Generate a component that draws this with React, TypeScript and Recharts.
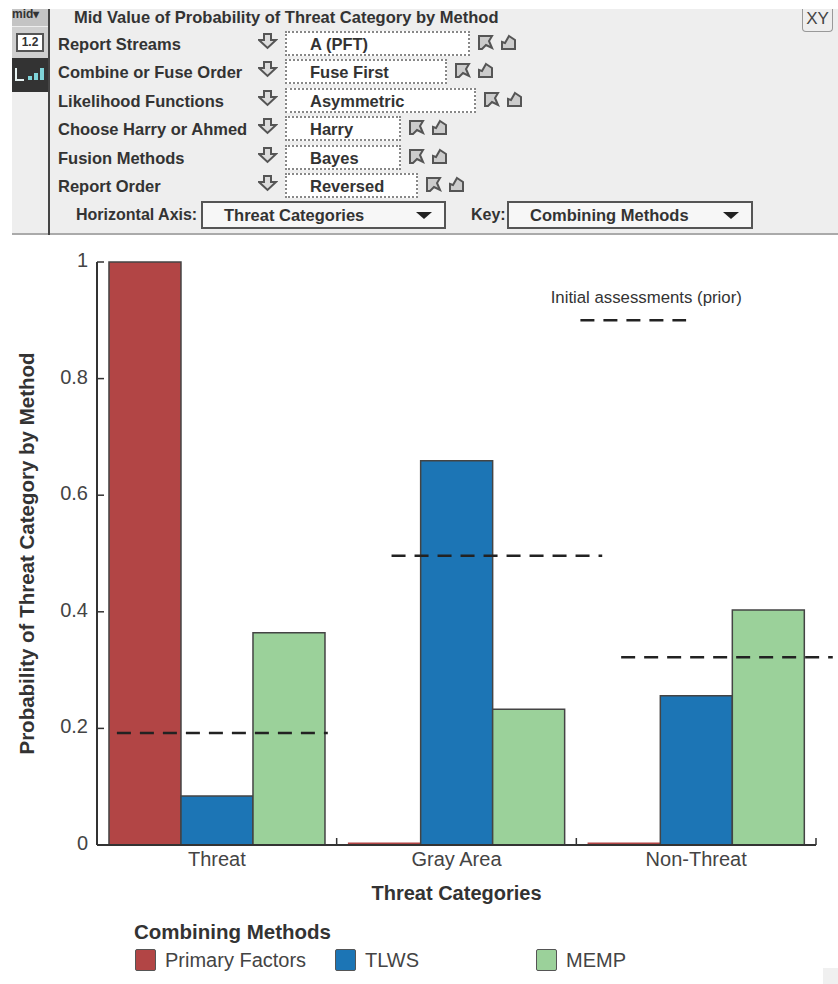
import React from 'react';
import {
  BarChart,
  Bar,
  Cell,
  XAxis,
  YAxis,
  Legend,
  ReferenceLine,
} from 'recharts';

const categories = ['Threat', 'Gray Area', 'Non-Threat'];
const primaryFactors = [1, 0.003, 0.003];
const tlws = [0.084, 0.659, 0.256];
const memp = [0.364, 0.233, 0.403];
const priors = [0.192, 0.496, 0.322];
// where each prior line starts and ends, in category units along the axis
const priorStarts = [0.083, 1.229, 2.187];
const priorEnds = [0.963, 2.108, 3.07];
const priorKey = { value: 0.9, from: 2.017, to: 2.458 };
const yTicks = [0, 0.2, 0.4, 0.6, 0.8, 1];
const boundaryTicks = [1, 2, 3];

const rows = [
  { label: 'Report Streams', value: 'A (PFT)' },
  { label: 'Combine or Fuse Order', value: 'Fuse First' },
  { label: 'Likelihood Functions', value: 'Asymmetric' },
  { label: 'Choose Harry or Ahmed', value: 'Harry' },
  { label: 'Fusion Methods', value: 'Bayes' },
  { label: 'Report Order', value: 'Reversed' },
];
const rowTops = [31, 59, 88, 116, 145, 173];
const rowBoxEnds = [470, 447, 476, 401, 401, 418];

const seriesList = [
  { key: 'primary', name: 'Primary Factors', color: '#b24545', values: primaryFactors },
  { key: 'tlws', name: 'TLWS', color: '#1c75b5', values: tlws },
  { key: 'memp', name: 'MEMP', color: '#9bd19a', values: memp },
];

const chartData = categories.map((name, i) => ({
  name,
  slot: i,
  primary: primaryFactors[i],
  tlws: tlws[i],
  memp: memp[i],
}));

const FONT = '"Liberation Sans", Arial, sans-serif';
const PANEL_TEXT = 16.5;
const AXIS_Y = 845;
const legendSlots = [135, 335, 536];

function pos(left: number, top: number, extra: React.CSSProperties = {}): React.CSSProperties {
  return { position: 'absolute', left, top, ...extra };
}

function DownArrow({ x, y }: { x: number; y: number }) {
  return (
    <svg style={pos(x, y)} width={20} height={18}>
      <path d="M6 2H13V8H18L9.5 16L1 8H6Z" fill="#ddd" stroke="#555" strokeWidth={2} />
    </svg>
  );
}

function CornerIcons({ x, y }: { x: number; y: number }) {
  return (
    <>
      <svg style={pos(x, y)} width={18} height={18}>
        <path d="M2 2H15L12 7L15 14L9 11L5 15H2Z" fill="#ccc" stroke="#555" strokeWidth={2} />
      </svg>
      <svg style={pos(x + 23, y)} width={18} height={18}>
        <path d="M9 2L15 6V15H2V8L5 9Z" fill="#ccc" stroke="#555" strokeWidth={2} />
      </svg>
    </>
  );
}

function DropBox({ x, width, text, textX }: { x: number; width: number; text: string; textX: number }) {
  return (
    <>
      <div
        style={pos(x, 201, {
          width,
          height: 28,
          boxSizing: 'border-box',
          background: '#f7f7f7',
          border: '2px solid #555',
        })}
      />
      <div style={pos(textX, 206, { fontWeight: 700, fontSize: PANEL_TEXT })}>{text}</div>
      <svg style={pos(x + width - 32, 211)} width={20} height={10}>
        <path d="M2 1H18L10 8Z" fill="#222" />
      </svg>
    </>
  );
}

function ControlPanel() {
  return (
    <div style={{ fontFamily: FONT, color: '#333' }}>
      <div style={pos(12, 9, { width: 826, height: 224, background: '#eeeeee', borderBottom: '2px solid #aaa' })} />
      <div style={pos(48, 9, { width: 2, height: 226, background: '#444' })} />
      <div style={pos(12, 9, { width: 36, height: 17, background: '#c4c4c4', fontSize: 12, fontWeight: 700, lineHeight: '11px' })}>mid▾</div>
      <div style={pos(12, 27, { width: 36, height: 31, background: '#cfcfcf' })} />
      <div
        style={pos(16, 33, {
          width: 24,
          height: 15,
          background: '#fff',
          border: '2px solid #555',
          fontSize: 12,
          fontWeight: 700,
          lineHeight: '15px',
          textAlign: 'center',
        })}
      >
        1.2
      </div>
      <div style={pos(12, 58, { width: 36, height: 34, background: '#333' })} />
      <svg style={pos(12, 58)} width={36} height={34}>
        <path d="M4 10V22H12" stroke="#e6f2f2" strokeWidth={2} fill="none" />
        <path d="M18 18V22M24 15V22M30 10V22" stroke="#7fd3d8" strokeWidth={4} fill="none" />
      </svg>

      <div style={pos(74, 8, { fontWeight: 700, fontSize: PANEL_TEXT, whiteSpace: 'nowrap' })}>
        Mid Value of Probability of Threat Category by Method
      </div>

      {rows.map((row, i) => (
        <React.Fragment key={row.label}>
          <div style={pos(58, rowTops[i] + 4, { fontWeight: 700, fontSize: PANEL_TEXT, whiteSpace: 'nowrap' })}>{row.label}</div>
          <DownArrow x={258} y={rowTops[i] + 1} />
          <div
            style={pos(285, rowTops[i], {
              width: rowBoxEnds[i] - 285,
              height: 25,
              boxSizing: 'border-box',
              background: '#fff',
              border: '2px dotted #888',
            })}
          />
          <div style={pos(310, rowTops[i] + 4, { fontWeight: 700, fontSize: PANEL_TEXT })}>{row.value}</div>
          <CornerIcons x={rowBoxEnds[i] + 7} y={rowTops[i] + 3} />
        </React.Fragment>
      ))}

      <div style={pos(76, 206, { fontWeight: 700, fontSize: 16 })}>Horizontal Axis:</div>
      <DropBox x={201} width={245} text="Threat Categories" textX={224} />
      <div style={pos(471, 206, { fontWeight: 700, fontSize: 16 })}>Key:</div>
      <DropBox x={507} width={246} text="Combining Methods" textX={530} />

      <div
        style={pos(802, 9, {
          width: 31,
          height: 23,
          boxSizing: 'border-box',
          border: '1px solid #999',
          borderTop: 'none',
          borderRadius: '0 0 4px 4px',
          fontSize: 17,
          textAlign: 'center',
          lineHeight: '20px',
          color: '#444',
        })}
      >
        XY
      </div>
    </div>
  );
}

function MethodLegend() {
  return (
    <div style={{ position: 'relative', width: 838, height: 70, fontFamily: FONT, color: '#444' }}>
      <div style={pos(134, -1, { fontWeight: 700, fontSize: 20.5, color: '#333', whiteSpace: 'nowrap' })}>Combining Methods</div>
      {seriesList.map((s, i) => (
        <React.Fragment key={s.key}>
          <div
            style={pos(legendSlots[i], 28, {
              width: 21,
              height: 22,
              boxSizing: 'border-box',
              background: s.color,
              border: '1.5px solid #555',
              borderRadius: 2,
            })}
          />
          <div style={pos(legendSlots[i] + 30, 28, { fontSize: 20, whiteSpace: 'nowrap' })}>{s.name}</div>
        </React.Fragment>
      ))}
    </div>
  );
}

// y axis tick: a short mark pointing into the plot, value to the left of the axis
function InwardYTick({ payload, y }: any) {
  return (
    <g>
      <line x1={97} x2={104} y1={y} y2={y} stroke="#333" strokeWidth={1.5} />
      <text x={88} y={y + 5} textAnchor="end" fill="#444" fontSize={20}>
        {payload.value}
      </text>
    </g>
  );
}

function BoundaryTick({ x }: any) {
  return <line x1={x} x2={x} y1={AXIS_Y} y2={AXIS_Y - 7} stroke="#333" strokeWidth={1.5} />;
}

export default function App() {
  return (
    <div style={{ position: 'absolute', left: 0, top: 0, width: 838, height: 984, background: '#fff', overflow: 'hidden' }}>
      <BarChart
        width={838}
        height={984}
        data={chartData}
        margin={{ top: 262, right: 22, left: 0, bottom: 0 }}
        barCategoryGap="5%"
        barGap={0}
        style={{ position: 'absolute', left: 0, top: 0, fontFamily: FONT }}
      >
        <XAxis
          xAxisId="units"
          dataKey="slot"
          type="number"
          domain={[0, 3]}
          allowDataOverflow
          ticks={boundaryTicks}
          interval={0}
          height={1}
          axisLine={false}
          tickLine={false}
          tickSize={0}
          tickMargin={0}
          tick={BoundaryTick}
        />
        <XAxis
          xAxisId="cats"
          dataKey="name"
          height={138}
          tickLine={false}
          axisLine={{ stroke: '#333', strokeWidth: 2 }}
          tick={{ fill: '#444', fontSize: 20 }}
          tickMargin={1}
          label={{
            value: 'Threat Categories',
            position: 'insideTop',
            offset: 41,
            fill: '#333',
            fontSize: 20,
            fontWeight: 700,
          }}
        />
        <YAxis
          width={97}
          domain={[0, 1]}
          ticks={yTicks}
          tickLine={false}
          axisLine={{ stroke: '#333', strokeWidth: 2 }}
          tick={InwardYTick}
          label={{
            value: 'Probability of Threat Category by Method',
            angle: -90,
            position: 'insideLeft',
            offset: 27,
            style: { textAnchor: 'middle' },
            fill: '#333',
            fontSize: 20.5,
            fontWeight: 700,
          }}
        />
        {seriesList.map((s) => (
          <Bar
            key={s.key}
            xAxisId="cats"
            dataKey={s.key}
            name={s.name}
            fill={s.color}
            stroke="#444"
            strokeWidth={1.5}
            isAnimationActive={false}
          >
            {s.values.map((v, i) => (
              <Cell key={`${s.key}-${i}`} stroke={v < 0.01 ? s.color : '#444'} />
            ))}
          </Bar>
        ))}
        {priors.map((v, i) => (
          <ReferenceLine
            key={`prior-${i}`}
            xAxisId="units"
            segment={[
              { x: priorStarts[i], y: v },
              { x: priorEnds[i], y: v },
            ]}
            ifOverflow="visible"
            stroke="#222"
            strokeWidth={2.5}
            strokeDasharray="14 9"
          />
        ))}
        <ReferenceLine
          xAxisId="units"
          segment={[
            { x: priorKey.from, y: priorKey.value },
            { x: priorKey.to, y: priorKey.value },
          ]}
          ifOverflow="visible"
          stroke="#222"
          strokeWidth={2.5}
          strokeDasharray="14 9"
          label={{
            value: 'Initial assessments (prior)',
            position: 'top',
            offset: 17,
            dx: 13,
            fill: '#333',
            fontSize: 16.8,
          }}
        />
        <Legend
          verticalAlign="middle"
          align="center"
          content={() => <MethodLegend />}
          wrapperStyle={{ left: 0, top: 921, width: 838 }}
        />
      </BarChart>
      <ControlPanel />
      <div style={pos(823, 968, { width: 15, height: 16, background: '#f0f0f0' })} />
    </div>
  );
}
